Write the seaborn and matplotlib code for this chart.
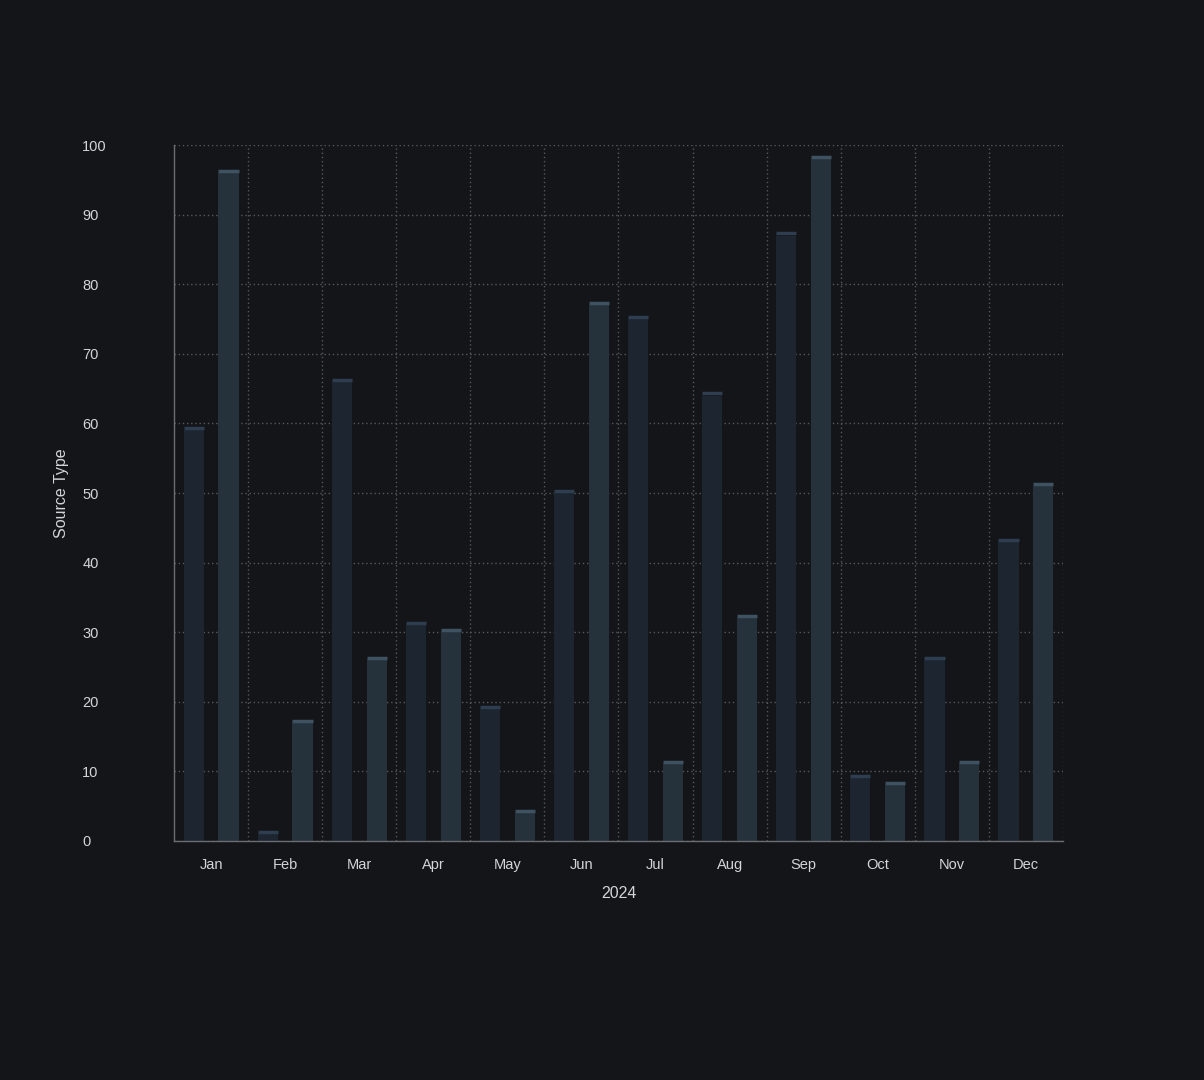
import pandas as pd
import numpy as np
import matplotlib.pyplot as plt
import seaborn as sns
from matplotlib.ticker import FixedLocator

sns.set_style("dark")
plt.rcParams['font.family'] = ['Liberation Sans', 'DejaVu Sans']

months = ["Jan", "Feb", "Mar", "Apr", "May", "Jun", "Jul", "Aug", "Sep", "Oct", "Nov", "Dec"]
series_a = [59, 1, 66, 31, 19, 50, 75, 64, 87, 9, 26, 43]
series_b = [96, 17, 26, 30, 4, 77, 11, 32, 98, 8, 11, 51]
series_names = ["A", "B"]

df = pd.DataFrame({
    "month": months * 2,
    "value": series_a + series_b,
    "series": [series_names[0]] * 12 + [series_names[1]] * 12,
})

bg = "#131518"
text_c = "#d2d5d9"
fills = {"A": "#1d2530", "B": "#25323c"}
caps = {"A": "#2e3d50", "B": "#3e5262"}

fig = plt.figure(figsize=(12.04, 10.8), dpi=100, facecolor=bg)
ax = fig.add_axes([0.1445, 0.2213, 0.7384, 0.6444])
ax.set_facecolor(bg)

sns.barplot(data=df, x="month", y="value", hue="series", order=months,
            hue_order=series_names, palette=fills, width=0.94, gap=0.42,
            saturation=1, linewidth=0, legend=False, ax=ax)

# lighter cap line on top of each bar
for p, name in zip(ax.patches, np.repeat(series_names, 12)):
    x0 = p.get_x()
    ax.plot([x0, x0 + p.get_width()], [p.get_height() + 0.3] * 2,
            color=caps[name], lw=2.5, solid_capstyle="butt", zorder=3)

ax.set_xlim(-0.5, 11.5)
ax.set_ylim(0, 100)
ax.set_yticks(range(0, 101, 10))
ax.xaxis.set_minor_locator(FixedLocator(np.arange(0.5, 12, 1)))

ax.grid(False)
ax.yaxis.grid(True, which="major", color="#55585d", linestyle=(0, (1, 2)), lw=1)
ax.xaxis.grid(True, which="minor", color="#55585d", linestyle=(0, (1, 2)), lw=1)
ax.set_axisbelow(True)

for s in ["top", "right"]:
    ax.spines[s].set_visible(False)
for s in ["left", "bottom"]:
    ax.spines[s].set_visible(True)
    ax.spines[s].set_color("#6a6d72")
    ax.spines[s].set_linewidth(1)

ax.tick_params(axis="x", which="both", length=0, pad=12, colors=text_c, labelsize=10.5)
ax.tick_params(axis="y", length=0, pad=66, colors=text_c, labelsize=10.5)
for lab in ax.get_yticklabels():
    lab.set_horizontalalignment("left")

ax.set_xlabel("2024", color=text_c, fontsize=11.5, labelpad=10)
ax.set_ylabel("Source Type", color=text_c, fontsize=11.5)
ax.yaxis.set_label_coords(-0.118, 0.5)

fig.savefig("out.png", dpi=100, facecolor=bg)
